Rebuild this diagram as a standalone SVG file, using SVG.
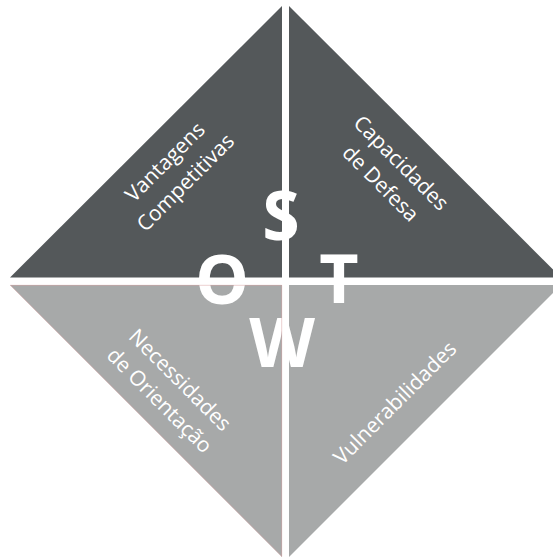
<svg xmlns="http://www.w3.org/2000/svg" width="553" height="557" viewBox="0 0 553 557">
  <style>
    .dark { fill: #54585a; }
    .light { fill: #a7a9a9; }
    .label { font-family: "Open Sans", "Liberation Sans", sans-serif; font-size: 21px; fill: #ffffff; text-anchor: middle; }
    .letter { font-family: "Open Sans", "Liberation Sans", sans-serif; font-weight: 700; font-size: 68px; fill: #ffffff; text-anchor: middle; }
    .edge { fill: none; stroke: #d9a1a1; stroke-width: 0.5; }
  </style>
  <rect width="553" height="557" fill="#ffffff"/>

  <!-- Strengths: upper left quadrant -->
  <g id="strengths">
    <polygon class="dark" points="282,6 282,277.5 10,277.5"/>
    <g transform="translate(175,172) rotate(-45)">
      <text class="label" x="0" y="-7">Vantagens</text>
      <text class="label" x="0" y="22">Competitivas</text>
    </g>
  </g>

  <!-- Threats: upper right quadrant -->
  <g id="threats">
    <polygon class="dark" points="289,6 289,277.5 561,277.5"/>
    <g transform="translate(391,173) rotate(45)">
      <text class="label" x="0" y="-7">Capacidades</text>
      <text class="label" x="0" y="22">de Defesa</text>
    </g>
  </g>

  <!-- Opportunities: lower left quadrant -->
  <g id="opportunities">
    <polygon class="light" points="282,285 10,285 282,557"/>
    <g transform="translate(170,390) rotate(45)">
      <text class="label" x="0" y="-7">Necessidades</text>
      <text class="label" x="0" y="22">de Orientação</text>
    </g>
  </g>

  <!-- Weaknesses: lower right quadrant -->
  <g id="weaknesses">
    <polygon class="light" points="289,285 561,285 289,557"/>
    <g transform="translate(395,403) rotate(-45)">
      <text class="label" x="0" y="7">Vulnerabilidades</text>
    </g>
  </g>

  <!-- SWOT initials around the centre -->
  <g id="initials">
    <text class="letter" x="281" y="240">S</text>
    <text class="letter" x="222" y="304">O</text>
    <text class="letter" x="339" y="303">T</text>
    <text class="letter" x="282" y="367">W</text>
  </g>

  <!-- hairline outline of the lower left quadrant -->
  <g id="connectors">
    <polyline class="edge" points="282,556.5 10.5,285.3 281.7,285.3 281.7,556.5"/>
  </g>
</svg>
